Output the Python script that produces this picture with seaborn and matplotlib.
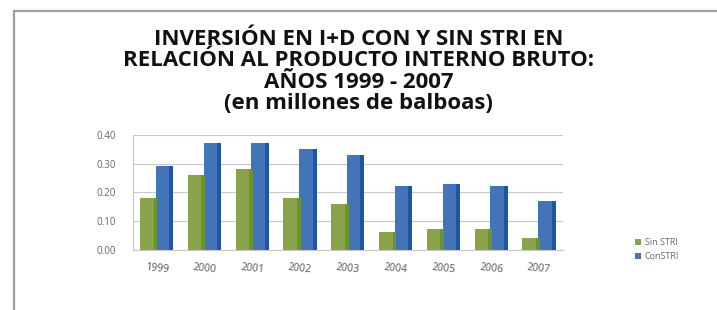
import pandas as pd
import matplotlib.pyplot as plt
import seaborn as sns
from matplotlib.patches import Rectangle
from matplotlib.lines import Line2D

years = ['1999', '2000', '2001', '2002', '2003', '2004', '2005', '2006', '2007']
sin_stri = [0.18, 0.26, 0.28, 0.18, 0.16, 0.06, 0.07, 0.07, 0.04]
con_stri = [0.29, 0.37, 0.37, 0.35, 0.33, 0.22, 0.23, 0.22, 0.17]
series_names = ['Sin STRI', 'ConSTRI']
title_lines = ['INVERSIÓN EN I+D CON Y SIN STRI EN',
               'RELACIÓN AL PRODUCTO INTERNO BRUTO:',
               'AÑOS 1999 - 2007',
               '(en millones de balboas)']

df = pd.DataFrame({'year': years * 2,
                   'value': sin_stri + con_stri,
                   'serie': [series_names[0]] * len(years) + [series_names[1]] * len(years)})

sns.set_style("white")
plt.rcParams['font.family'] = ['Open Sans', 'DejaVu Sans']

fig = plt.figure(figsize=(7.17, 3.10), dpi=100)
# grey frame, only the left and top edges show in the original
fig.add_artist(Line2D([0.0195, 0.0195], [0.0, 0.964], transform=fig.transFigure,
                      color='#a0a0a0', linewidth=1.6))
fig.add_artist(Line2D([0.0195, 1.0], [0.964, 0.964], transform=fig.transFigure,
                      color='#a0a0a0', linewidth=1.6))

ax = fig.add_axes([0.185, 0.195, 0.60, 0.37])
sns.barplot(data=df, x='year', y='value', hue='serie', ax=ax,
            palette=['#8cb33c', '#2f6fcc'], width=0.66, gap=-0.1,
            linewidth=0)

# darker right edge on each bar for a bit of depth
for patch, color in zip(ax.patches, ['#6f9230'] * len(years) + ['#1f55a8'] * len(years)):
    x, w, h = patch.get_x(), patch.get_width(), patch.get_height()
    ax.add_patch(Rectangle((x + w * 0.78, 0), w * 0.22, h, color=color, linewidth=0))

ax.set_ylim(0, 0.40)
ax.set_yticks([0, 0.1, 0.2, 0.3, 0.4])
ax.set_yticklabels(['0.00', '0.10', '0.20', '0.30', '0.40'], fontsize=7, color='#666666')
ax.tick_params(axis='y', pad=12)
ax.tick_params(axis='x', labelsize=7.5, colors='#555555', pad=9, labelrotation=-6)
ax.tick_params(length=0)
ax.yaxis.grid(True, color='#c8c8c8', linewidth=0.8)
ax.set_axisbelow(True)
ax.set_xlabel('')
ax.set_ylabel('')
for s in ['top', 'right']:
    ax.spines[s].set_visible(False)
ax.spines['left'].set_color('#c8c8c8')
ax.spines['bottom'].set_color('#c8c8c8')

ax.legend(loc='center left', bbox_to_anchor=(1.15, 0.0), frameon=False,
          fontsize=6.5, handlelength=0.6, handleheight=0.6, handletextpad=0.4,
          labelspacing=0.6, labelcolor='#666666')

for y, line in zip([0.874, 0.805, 0.735, 0.665], title_lines):
    fig.text(0.5, y, line, ha='center', va='center', fontsize=16, fontweight='bold',
             color='#111111')

plt.savefig('out.png', dpi=100)
plt.close()
